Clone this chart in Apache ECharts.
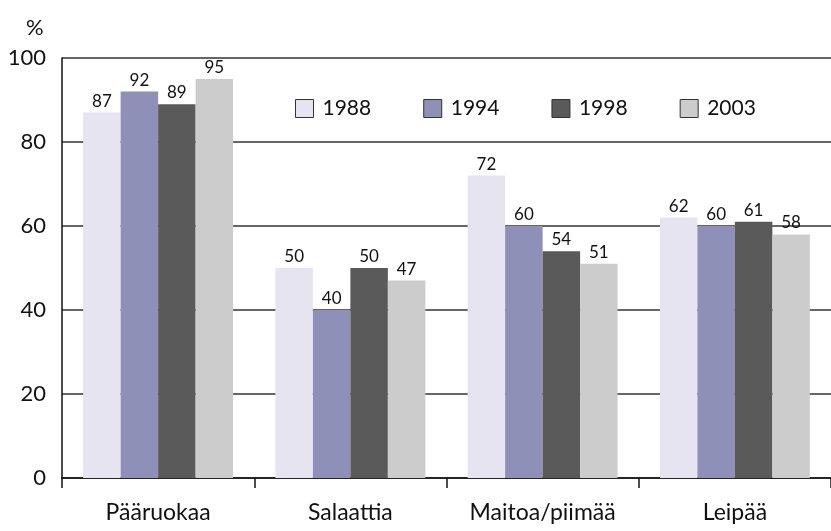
<!DOCTYPE html>
<html>
<head>
<meta charset="utf-8">
<script src="https://cdn.jsdelivr.net/npm/echarts@6/dist/echarts.min.js"></script>
<style>
  html, body { margin: 0; padding: 0; background: #fff; }
  #chart { width: 831px; height: 531px; }
</style>
</head>
<body>
<div id="chart"></div>
<script>
var categories = ['Pääruokaa', 'Salaattia', 'Maitoa/piimää', 'Leipää'];
var years = ['1988', '1994', '1998', '2003'];
var v1988 = [87, 50, 72, 62];
var v1994 = [92, 40, 60, 60];
var v1998 = [89, 50, 54, 61];
var v2003 = [95, 47, 51, 58];
var yTicks = [0, 20, 40, 60, 80, 100];

var colors = ['#E6E4F0', '#8E90B8', '#5A5A5A', '#CCCCCC'];
var font = 'Lato, "Open Sans", sans-serif';

var chart = echarts.init(document.getElementById('chart'));

function bar(name, data) {
    return {
        name: name,
        type: 'bar',
        data: data,
        barGap: 0,
        barCategoryGap: '22%',
        label: {
            show: true,
            position: 'top',
            distance: 3,
            color: '#111',
            fontSize: 17,
            fontFamily: font
        }
    };
}

chart.setOption({
    animation: false,
    color: colors,
    title: {
        text: '%',
        left: 21,
        top: 12,
        textStyle: { fontSize: 22, fontWeight: 'normal', color: '#111', fontFamily: font }
    },
    legend: {
        left: 290,
        top: 93,
        itemWidth: 18,
        itemHeight: 18,
        itemGap: 52,
        icon: 'rect',
        itemStyle: { borderColor: '#333', borderWidth: 1 },
        textStyle: { fontSize: 21, color: '#111', fontFamily: font, padding: [0, 0, 0, 4] },
        data: years
    },
    grid: {
        left: 62,
        top: 58,
        bottom: 53,
        width: 779
    },
    xAxis: {
        type: 'category',
        data: categories,
        axisLine: { lineStyle: { color: '#111', width: 1.5 } },
        axisTick: { show: true, length: 10, lineStyle: { color: '#111', width: 1.5 } },
        axisLabel: { fontSize: 23, color: '#111', fontFamily: font, margin: 23 }
    },
    yAxis: {
        type: 'value',
        min: yTicks[0],
        max: yTicks[yTicks.length - 1],
        interval: 20,
        axisLine: { show: true, lineStyle: { color: '#111', width: 1.5 } },
        axisTick: { show: false },
        axisLabel: { fontSize: 22, color: '#111', fontFamily: font, margin: 16 },
        splitLine: { lineStyle: { color: '#333', width: 1.5 } }
    },
    series: [
        bar(years[0], v1988),
        bar(years[1], v1994),
        bar(years[2], v1998),
        bar(years[3], v2003)
    ]
});
</script>
</body>
</html>
